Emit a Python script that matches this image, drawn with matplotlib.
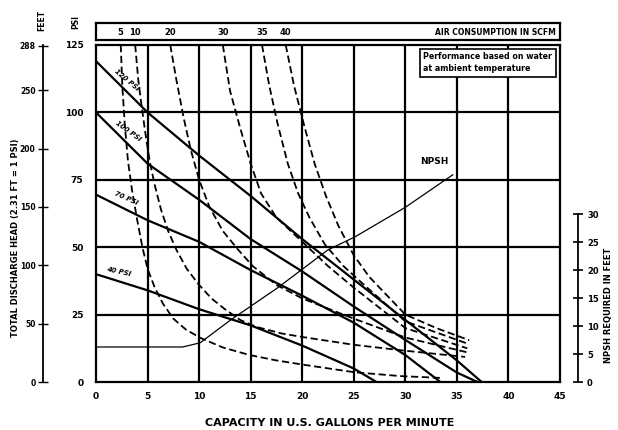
import matplotlib
matplotlib.use("Agg")
import matplotlib.pyplot as plt

plt.rcParams['font.family'] = ['Liberation Sans Narrow', 'DejaVu Sans']
plt.rcParams['font.weight'] = 'bold'

# ---------------- data ----------------
x_ticks = [0, 5, 10, 15, 20, 25, 30, 35, 40, 45]
psi_ticks = [0, 25, 50, 75, 100, 125]
psi_labels = ["0", "25", "50", "75", "100", "125"]
feet_ticks = [0, 50, 100, 150, 200, 250, 288]
npsh_ticks = [0, 5, 10, 15, 20, 25, 30]

# pressure (solid) curves: GPM vs head in PSI
p120_gpm = [0, 5, 10, 15, 20, 25, 30, 35, 37.4]
p120_psi = [119, 100, 84, 69, 53, 38, 23, 8, 0]
p100_gpm = [0, 5, 10, 15, 20, 25, 30, 35, 37.0]
p100_psi = [100, 81, 67.6, 53, 41, 28, 15.6, 3.5, 0]
p70_gpm = [0, 5, 10, 15, 20, 25, 30, 33.4]
p70_psi = [69.5, 60, 52, 41.5, 32, 22, 10, 0]
p40_gpm = [0, 5, 10, 15, 20, 25, 27.2]
p40_psi = [40, 34, 27, 21, 13.5, 5, 0]
pressure_labels = ["120 PSI", "100 PSI", "70 PSI", "40 PSI"]

# air consumption (dashed) curves
air_labels = ["5", "10", "20", "30", "35", "40"]
a5_gpm = [2.4, 2.55, 2.8, 3.1, 3.5, 4.0, 4.5, 5.0, 5.7, 6.5, 7.5, 8.7, 10.1, 12.3, 14.9,
          17.5, 20.3, 25.1, 29.5, 33.5]
a5_psi = [125, 110, 95, 82, 71, 60, 50, 42, 35, 29, 23.5, 19.5, 16.4, 12.8, 10,
          8, 6.3, 3.6, 2.2, 1.5]
a10_gpm = [3.8, 4.1, 4.4, 4.8, 5.2, 5.7, 6.3, 7.0, 7.8, 8.8, 10, 11.2, 12.5, 14, 15.5,
           18, 20, 25, 30, 35.8]
a10_psi = [125, 112, 103, 92, 82, 73, 64, 56, 49, 42, 36, 31, 27, 23, 20.5,
           18, 16.7, 13.8, 11.6, 9.3]
a20_gpm = [7.2, 7.8, 8.5, 9.2, 10, 11, 12.3, 13.8, 15.2, 17.5, 20, 25, 30, 36]
a20_psi = [125, 112, 98, 86, 75, 65, 56, 49, 43, 36, 31, 23.5, 16.5, 11]
a30_gpm = [12.3, 13.0, 14, 15, 16, 17.5, 20, 22.5, 25, 30, 36]
a30_psi = [125, 108, 94, 81, 70, 61, 52, 43, 35, 20, 12.5]
a35_gpm = [16.1, 16.8, 17.6, 18.6, 19.6, 20.7, 22.2, 24, 26, 30, 36.2]
a35_psi = [125, 110, 96, 81, 70, 61, 51, 43, 36, 22.5, 14]
a40_gpm = [18.4, 19.2, 20.2, 21.2, 22.3, 23.5, 25, 26.5, 28, 30, 33, 36.2]
a40_psi = [125, 110, 95, 81, 69, 58, 47, 39, 33, 25, 20, 15.5]

# NPSH required (feet)
npsh_gpm = [0, 8.4, 10.1, 13.0, 14.9, 17.6, 22.5, 25.1, 30, 34.6]
npsh_ft = [6.25, 6.25, 7, 11, 13.4, 16.8, 23.6, 25.9, 31.2, 37]

# ---------------- figure ----------------
W, H = 618, 430
fig = plt.figure(figsize=(W / 100, H / 100), dpi=100)

def fx(px):
    return px / W

def fy(py):
    return 1 - py / H

L, R, T, B = 96, 560, 45, 382
ax = fig.add_axes([fx(L), fy(B), fx(R) - fx(L), fy(T) - fy(B)])
ax.set_xlim(0, 45)
ax.set_ylim(0, 125)
for s in ax.spines.values():
    s.set_linewidth(1.6)
ax.set_xticks(x_ticks)
ax.set_xticklabels([str(v) for v in x_ticks], fontsize=6.5, fontweight='bold')
ax.set_yticks(psi_ticks)
ax.set_yticklabels(psi_labels, fontsize=6.5, fontweight='bold')
ax.tick_params(axis='both', length=0)
ax.tick_params(axis='y', pad=9)
ax.tick_params(axis='x', pad=7)
for v in x_ticks[1:-1]:
    ax.axvline(v, color='black', lw=1.6, zorder=1)
for v in psi_ticks[1:-1]:
    ax.axhline(v, color='black', lw=1.6, zorder=1)

# pressure curves
pcurves = [(p120_gpm, p120_psi), (p100_gpm, p100_psi), (p70_gpm, p70_psi), (p40_gpm, p40_psi)]
for g, p in pcurves:
    ax.plot(g, p, color='black', lw=1.6, solid_capstyle='butt', zorder=3)
plabel_pos = [(3.0, 112.0, -40), (3.1, 93.0, -36), (2.9, 68.0, -24), (2.2, 41.0, -12)]
for (xx, yy, rot), t in zip(plabel_pos, pressure_labels):
    ax.text(xx, yy, t, fontsize=5, fontweight='bold', style='italic', rotation=rot,
            ha='center', va='center', rotation_mode='anchor', zorder=4)

# air curves
acurves = [(a5_gpm, a5_psi), (a10_gpm, a10_psi), (a20_gpm, a20_psi),
           (a30_gpm, a30_psi), (a35_gpm, a35_psi), (a40_gpm, a40_psi)]
for g, p in acurves:
    ax.plot(g, p, color='black', lw=1.3, ls=(0, (4, 2)), zorder=3)

# info box
ax.text(31.75, 122.3, "Performance based on water\nat ambient temperature", fontsize=5.7,
        fontweight='bold', ha='left', va='top', linespacing=1.45,
        bbox=dict(boxstyle='square,pad=0.45', fc='white', ec='black', lw=1.2), zorder=5)

ax.set_xlabel("CAPACITY IN U.S. GALLONS PER MINUTE", fontsize=8, fontweight='bold', labelpad=12)
ax.xaxis.set_label_coords((330 - L) / (R - L), -(418 - B) / (B - T))

# NPSH axis (right)
ax3 = ax.twinx()
ax3.set_ylim(0, (B - T) / 5.6)
ax3.plot(npsh_gpm, npsh_ft, color='black', lw=0.9, zorder=3)
ax3.text(32.8, 38.5, "NPSH", fontsize=6.5, fontweight='bold', ha='center', va='bottom')
for k in ['top', 'bottom', 'left']:
    ax3.spines[k].set_visible(False)
ax3.spines['right'].set_position(('outward', 13))
ax3.spines['right'].set_bounds(0, 30)
ax3.spines['right'].set_linewidth(1.3)
ax3.set_yticks(npsh_ticks)
ax3.set_yticklabels([str(v) for v in npsh_ticks], fontsize=6, fontweight='bold')
ax3.tick_params(axis='y', direction='inout', length=7, width=1.2, pad=3)
ax3.set_ylabel("NPSH REQUIRED IN FEET", fontsize=6, fontweight='bold', rotation=90)
ax3.yaxis.set_label_coords(1 + (604 - R) / (R - L), (B - 305) / (B - T))

# FEET axis (left, outer)
ax2 = ax.twinx()
ax2.set_ylim(0, 125 * 2.31)
for k in ['top', 'bottom', 'right']:
    ax2.spines[k].set_visible(False)
ax2.spines['left'].set_visible(True)
ax2.spines['left'].set_position(('outward', L - 58))
ax2.spines['left'].set_linewidth(1.3)
ax2.yaxis.set_ticks_position('left')
ax2.yaxis.set_label_position('left')
ax2.set_yticks(feet_ticks)
ax2.set_yticklabels([str(v) for v in feet_ticks], fontsize=5.5, fontweight='bold')
ax2.tick_params(axis='y', direction='inout', length=7, width=1.0, pad=2)
ax2.set_ylabel("TOTAL DISCHARGE HEAD (2.31 FT = 1 PSI)", fontsize=6, fontweight='bold')
ax2.yaxis.set_label_coords(-(L - 20) / (R - L), (B - 238) / (B - T))

# axis title texts
fig.text(fx(42), fy(20), "FEET", rotation=90, fontsize=5.5, fontweight='bold', ha='center', va='center')
fig.text(fx(76), fy(22), "PSI", rotation=90, fontsize=5.5, fontweight='bold', ha='center', va='center')

# top strip for air consumption labels
axt = fig.add_axes([fx(L), fy(40), fx(R) - fx(L), fy(23) - fy(40)])
axt.set_xlim(0, 45)
axt.set_ylim(0, 1)
axt.set_xticks([])
axt.set_yticks([])
for s in axt.spines.values():
    s.set_linewidth(1.6)
for (g, p), lab in zip(acurves, air_labels):
    axt.text(g[0], 0.45, lab, fontsize=6, fontweight='bold', ha='center', va='center')
axt.text(44.6, 0.45, "AIR CONSUMPTION IN SCFM", fontsize=5.5, fontweight='bold', ha='right', va='center')

fig.savefig("out.png", dpi=100)
